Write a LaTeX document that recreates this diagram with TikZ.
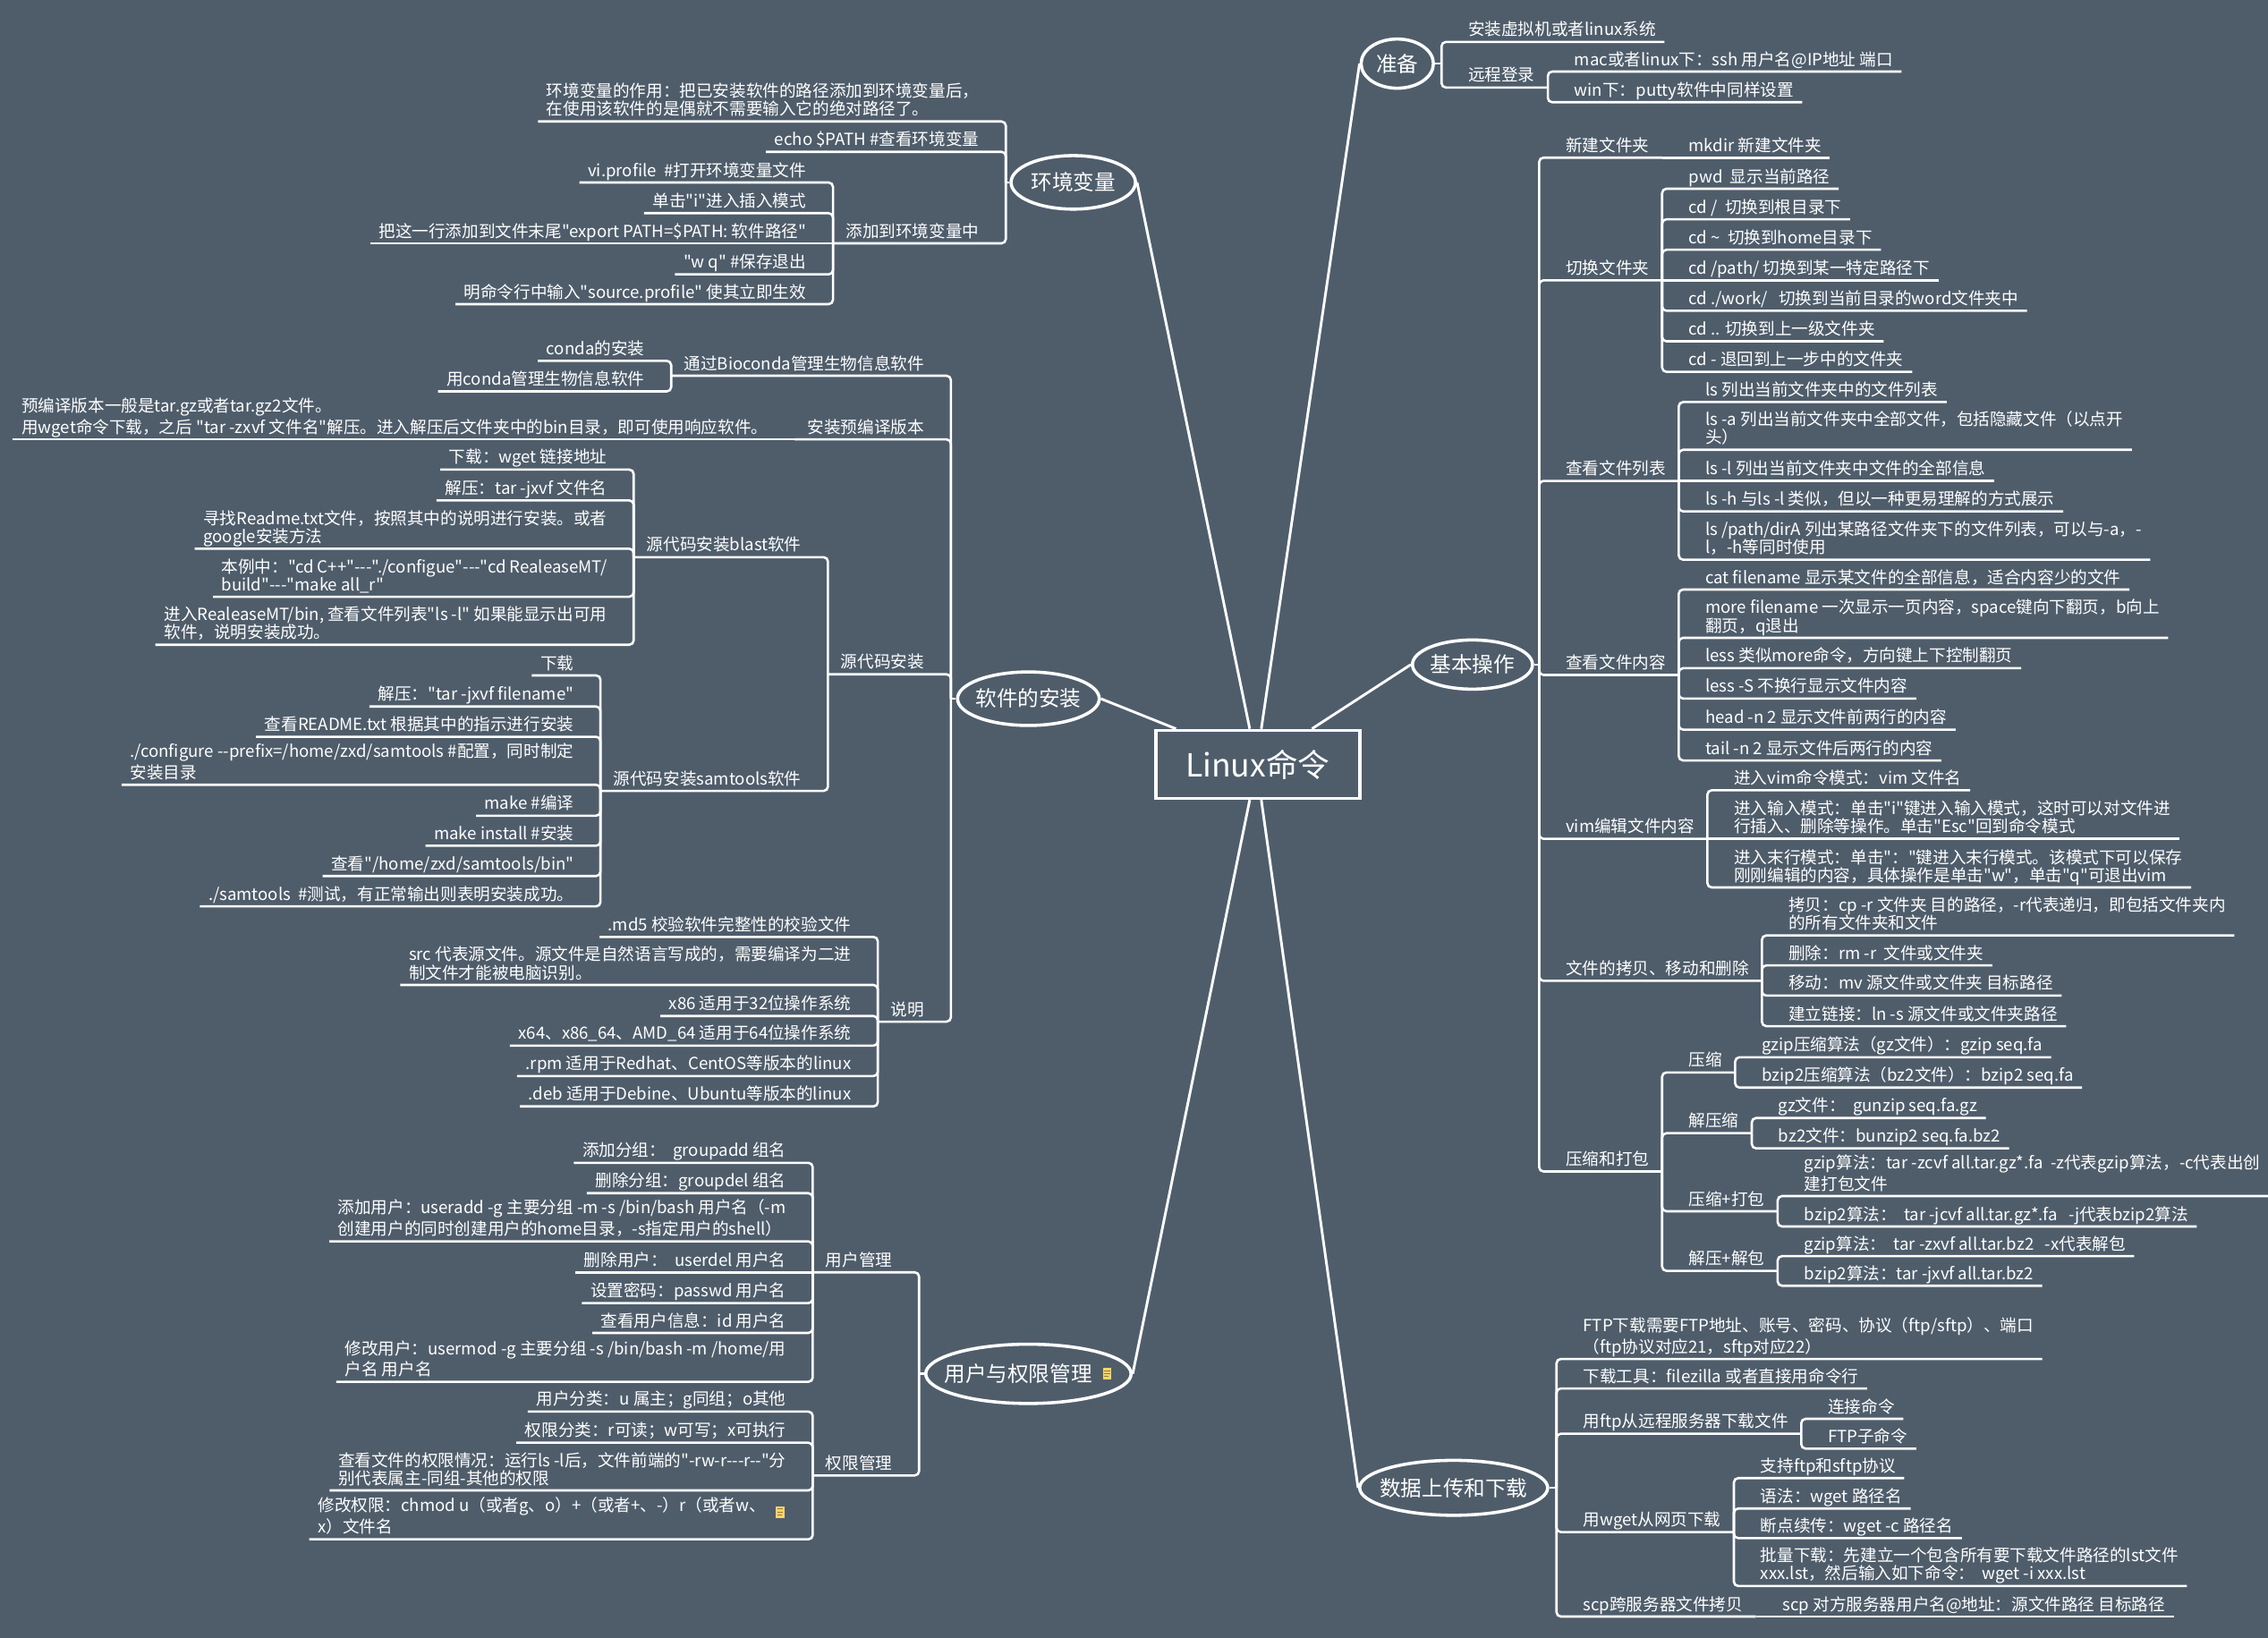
\documentclass[tikz,border=0pt]{standalone}
\usepackage{fontspec}
\setmainfont{Noto Sans CJK SC}[Ligatures=TeXOff]
\usetikzlibrary{calc,shapes.geometric}
\definecolor{bg}{HTML}{4F5D6B}
\definecolor{noteY}{HTML}{F3D46B}
\definecolor{noteL}{HTML}{9A7B2C}
\newcommand\mmlf{\fontsize{5.75pt}{6.2pt}\selectfont}
\newcommand\mmmf{\fontsize{7.3pt}{8pt}\selectfont}
\newcommand\mmcf{\fontsize{11pt}{12pt}\selectfont}
\newcommand\mmstrut{\rule[-1.5pt]{0pt}{1.5pt}}
\tikzset{
  br/.style={draw=white, line width=0.8pt, rounded corners=1.5pt},
  conn/.style={draw=white, line width=0.9pt},
  leafR/.style={anchor=south west, inner sep=0pt, outer sep=0pt, text=white, font=\mmlf, align=left},
  leafL/.style={anchor=south east, inner sep=0pt, outer sep=0pt, text=white, font=\mmlf, align=left},
  mainE/.style={ellipse, draw=white, line width=1.1pt, inner sep=0pt, text=white, font=\mmmf},
  centerbox/.style={rectangle, draw=white, line width=1.1pt, minimum width=70.5pt, minimum height=23.5pt, inner sep=0pt, text=white, font=\mmcf},
}
\newcommand\mmRL[4]{%
  \path (#2 |- 0,#3) coordinate (#1-j);
  \node[leafR] (#1) at ($(#1-j)+(18.5,-1.3)$) {#4\mmstrut};
  \draw[br] (#2) -- (#1-j) -- ($(#1.south east)+(6,1.3)$);}
\newcommand\mmRLm[4]{%
  \node[leafR] (#1) at ($(#2)+(18.5,-1.3)$) {#4\mmstrut};
  \draw[br] (#2) -- ($(#1.south east)+(6,1.3)$);}
\newcommand\mmRN[4]{%
  \path (#2 |- 0,#3) coordinate (#1-j);
  \node[leafR] (#1) at ($(#1-j)+(18.5,-1.3)$) {#4\mmstrut};
  \coordinate (#1-b) at ($(#1.south east)+(9,1.3)$);
  \draw[br] (#2) -- (#1-j) -- (#1-b);}
\newcommand\mmLL[4]{%
  \path (#2 |- 0,#3) coordinate (#1-j);
  \node[leafL] (#1) at ($(#1-j)+(-18.5,-1.3)$) {#4\mmstrut};
  \draw[br] (#2) -- (#1-j) -- ($(#1.south west)+(-6,1.3)$);}
\newcommand\mmLLm[4]{%
  \node[leafL] (#1) at ($(#2)+(-18.5,-1.3)$) {#4\mmstrut};
  \draw[br] (#2) -- ($(#1.south west)+(-6,1.3)$);}
\newcommand\mmLN[4]{%
  \path (#2 |- 0,#3) coordinate (#1-j);
  \node[leafL] (#1) at ($(#1-j)+(-18.5,-1.3)$) {#4\mmstrut};
  \coordinate (#1-b) at ($(#1.south west)+(-9,1.3)$);
  \draw[br] (#2) -- (#1-j) -- (#1-b);}
\newcommand\mmnote[1]{%
  \fill[noteY] ($(#1)+(-3,-4)$) rectangle ($(#1)+(3,4)$);
  \draw[noteL, line width=0.3pt] ($(#1)+(-2,-2)$) -- ($(#1)+(2,-2)$) ($(#1)+(-2,0)$) -- ($(#1)+(2,0)$) ($(#1)+(-2,2)$) -- ($(#1)+(1,2)$);}
\begin{document}
\begin{tikzpicture}[x=0.5pt,y=-0.5pt]
\useasboundingbox (0,0) rectangle (1568,1132.5);
\fill[bg] (0,0) rectangle (1568,1132.5);

% centre and main topics
\node[centerbox] (lx) at (869.5,528.5) {Linux命令};
\node[mainE, minimum width=25pt, minimum height=17pt] (pb) at (966,44) {\makebox[0pt]{准备}};
\node[mainE, minimum width=43pt, minimum height=18.5pt] (hj) at (742,126.1) {\makebox[0pt]{环境变量}};
\node[mainE, minimum width=49pt, minimum height=18.5pt] (rj) at (711,483.1) {\makebox[0pt]{软件的安装}};
\node[mainE, minimum width=71pt, minimum height=20.5pt] (yh) at (711,949.9) {\makebox[0pt]{用户与权限管理\rule{7pt}{0pt}}};
\node[mainE, minimum width=41.5pt, minimum height=17pt] (jb) at (1018,459.5) {\makebox[0pt]{基本操作}};
\node[mainE, minimum width=65pt, minimum height=19pt] (sj) at (1005,1028.7) {\makebox[0pt]{数据上传和下载}};
\coordinate (ic1) at ($(yh.center)+(54.5,0)$);
\mmnote{ic1}

\coordinate (c-hj) at ($(lx.north)+(-5.5,0)$);
\coordinate (c-pb) at ($(lx.north)+(2.5,0)$);
\coordinate (c-jb) at ($(lx.north)+(37.5,0)$);
\coordinate (c-rj) at ($(lx.north)+(-56.5,0)$);
\coordinate (c-yh) at ($(lx.south)+(-5.5,0)$);
\coordinate (c-sj) at ($(lx.south)+(2.5,0)$);
\draw[conn] (c-hj) -- (hj.east);
\draw[conn] (c-pb) -- (pb.west);
\draw[conn] (c-jb) -- (jb.west);
\draw[conn] (c-rj) -- (rj.east);
\draw[conn] (c-yh) -- (yh.east);
\draw[conn] (c-sj) -- (sj.west);

\coordinate (pb-b) at ($(pb.east)+(4.5,0)$);
\coordinate (jb-b) at ($(jb.east)+(3.5,0)$);
\coordinate (sj-b) at ($(sj.east)+(5,0)$);
\coordinate (hj-b) at ($(hj.west)+(-2.5,0)$);
\coordinate (rj-b) at ($(rj.west)+(-3.5,0)$);
\coordinate (yh-b) at ($(yh.west)+(-3.5,0)$);
\draw[br] (pb.east) -- (pb-b);
\draw[br] (jb.east) -- (jb-b);
\draw[br] (sj.east) -- (sj-b);
\draw[br] (hj.west) -- (hj-b);
\draw[br] (rj.west) -- (rj-b);
\draw[br] (yh.west) -- (yh-b);

% 准备
\mmRL{p1}{pb-b}{29}{安装虚拟机或者linux系统}
\mmRN{p2}{pb-b}{60.5}{远程登录}
\mmRL{p21}{p2-b}{49.5}{mac或者linux下：ssh 用户名@IP地址 端口}
\mmRL{p22}{p2-b}{70.7}{win下：putty软件中同样设置}

% 基本操作
\mmRN{b1}{jb-b}{109}{新建文件夹}
\mmRLm{b11}{b1-b}{109}{mkdir 新建文件夹}
\mmRN{b2}{jb-b}{193.8}{切换文件夹}
\mmRL{b21}{b2-b}{130.5}{pwd\ \ 显示当前路径}
\mmRL{b22}{b2-b}{151.6}{cd /\ \ 切换到根目录下}
\mmRL{b23}{b2-b}{172.7}{cd \textasciitilde\ \ 切换到home目录下}
\mmRLm{b24}{b2-b}{193.8}{cd /path/ 切换到某一特定路径下}
\mmRL{b25}{b2-b}{214.9}{cd ./work/\ \ \ 切换到当前目录的word文件夹中}
\mmRL{b26}{b2-b}{236}{cd .. 切换到上一级文件夹}
\mmRL{b27}{b2-b}{257.1}{cd - 退回到上一步中的文件夹}
\mmRN{b3}{jb-b}{332.5}{查看文件列表}
\mmRL{b31}{b3-b}{278}{ls 列出当前文件夹中的文件列表}
\mmRL{b32}{b3-b}{311}{ls -a 列出当前文件夹中全部文件，包括隐藏文件（以点开\\头）}
\mmRLm{b33}{b3-b}{332.5}{ls -l 列出当前文件夹中文件的全部信息}
\mmRL{b34}{b3-b}{353.6}{ls -h 与ls -l 类似，但以一种更易理解的方式展示}
\mmRL{b35}{b3-b}{387}{ls /path/dirA 列出某路径文件夹下的文件列表，可以与-a，-\\l，-h等同时使用}
\mmRN{b4}{jb-b}{466.7}{查看文件内容}
\mmRL{b41}{b4-b}{407.6}{cat filename 显示某文件的全部信息，适合内容少的文件}
\mmRL{b42}{b4-b}{441}{more filename 一次显示一页内容，space键向下翻页，b向上\\翻页，q退出}
\mmRL{b43}{b4-b}{462}{less 类似more命令，方向键上下控制翻页}
\mmRL{b44}{b4-b}{483}{less -S 不换行显示文件内容}
\mmRL{b45}{b4-b}{504.5}{head -n 2 显示文件前两行的内容}
\mmRL{b46}{b4-b}{525.8}{tail -n 2 显示文件后两行的内容}
\mmRN{b5}{jb-b}{580}{vim编辑文件内容}
\mmRL{b51}{b5-b}{546.4}{进入vim命令模式：vim 文件名}
\mmRLm{b52}{b5-b}{580}{进入输入模式：单击"i"键进入输入模式，这时可以对文件进\\行插入、删除等操作。单击"Esc"回到命令模式}
\mmRL{b53}{b5-b}{613.6}{进入末行模式：单击"："键进入末行模式。该模式下可以保存\\刚刚编辑的内容，具体操作是单击"w"，单击"q"可退出vim}
\mmRN{b6}{jb-b}{678.2}{文件的拷贝、移动和删除}
\mmRL{b61}{b6-b}{646.8}{拷贝：cp -r 文件夹 目的路径，-r代表递归，即包括文件夹内\\的所有文件夹和文件}
\mmRL{b62}{b6-b}{667.5}{删除：rm -r\ \ 文件或文件夹}
\mmRL{b63}{b6-b}{688.4}{移动：mv 源文件或文件夹 目标路径}
\mmRL{b64}{b6-b}{709.5}{建立链接：ln -s 源文件或文件夹路径}
\mmRN{b7}{jb-b}{810}{压缩和打包}
\mmRN{b71}{b7-b}{741.5}{压缩}
\mmRL{b711}{b71-b}{731}{gzip压缩算法（gz文件）：gzip seq.fa}
\mmRL{b712}{b71-b}{752}{bzip2压缩算法（bz2文件）：bzip2 seq.fa}
\mmRN{b72}{b7-b}{783.5}{解压缩}
\mmRL{b721}{b72-b}{773}{gz文件：\ \ gunzip seq.fa.gz}
\mmRL{b722}{b72-b}{794}{bz2文件：bunzip2 seq.fa.bz2}
\mmRN{b73}{b7-b}{837.5}{压缩+打包}
\mmRL{b731}{b73-b}{827}{gzip算法：tar -zcvf all.tar.gz*.fa\ \ -z代表gzip算法，-c代表出创\\建打包文件}
\mmRL{b732}{b73-b}{848}{bzip2算法：\ \ tar -jcvf all.tar.gz*.fa\ \ \ -j代表bzip2算法}
\mmRN{b74}{b7-b}{878.7}{解压+解包}
\mmRL{b741}{b74-b}{868.5}{gzip算法：\ \ tar -zxvf all.tar.bz2\ \ \ -x代表解包}
\mmRL{b742}{b74-b}{889}{bzip2算法：tar -jxvf all.tar.bz2}

% 数据上传和下载
\mmRL{d1}{sj-b}{939.6}{FTP下载需要FTP地址、账号、密码、协议（ftp/sftp）、端口\\（ftp协议对应21，sftp对应22）}
\mmRL{d2}{sj-b}{960}{下载工具：filezilla 或者直接用命令行}
\mmRN{d3}{sj-b}{991.3}{用ftp从远程服务器下载文件}
\mmRL{d31}{d3-b}{981}{连接命令}
\mmRL{d32}{d3-b}{1001.6}{FTP子命令}
\mmRN{d4}{sj-b}{1059.3}{用wget从网页下载}
\mmRL{d41}{d4-b}{1022}{支持ftp和sftp协议}
\mmRL{d42}{d4-b}{1043}{语法：wget 路径名}
\mmRL{d43}{d4-b}{1063.5}{断点续传：wget -c 路径名}
\mmRL{d44}{d4-b}{1096.6}{批量下载：先建立一个包含所有要下载文件路径的lst文件\\xxx.lst，然后输入如下命令：\ \ wget -i xxx.lst}
\mmRN{d5}{sj-b}{1117.7}{scp跨服务器文件拷贝}
\mmRLm{d51}{d5-b}{1117.7}{scp 对方服务器用户名@地址：源文件路径 目标路径}

% 软件的安装
\mmLN{s1}{rj-b}{259.8}{通过Bioconda管理生物信息软件}
\mmLL{s11}{s1-b}{249.5}{conda的安装}
\mmLL{s12}{s1-b}{270.6}{用conda管理生物信息软件}
\mmLN{s2}{rj-b}{303.8}{安装预编译版本}
\mmLLm{s21}{s2-b}{303.8}{预编译版本一般是tar.gz或者tar.gz2文件。\\用wget命令下载，之后 "tar -zxvf 文件名"解压。进入解压后文件夹中的bin目录，即可使用响应软件。}
\mmLN{s3}{rj-b}{466.2}{源代码安装}
\mmLN{s31}{s3-b}{385.25}{源代码安装blast软件}
\mmLL{s311}{s31-b}{324.7}{下载：wget 链接地址}
\mmLL{s312}{s31-b}{346}{解压：tar -jxvf 文件名}
\mmLL{s313}{s31-b}{379.4}{寻找Readme.txt文件，按照其中的说明进行安装。或者\\google安装方法}
\mmLL{s314}{s31-b}{412.6}{本例中："cd C++"---"./configue"---"cd RealeaseMT/\\build"---"make all\_r"}
\mmLL{s315}{s31-b}{445.8}{进入RealeaseMT/bin, 查看文件列表"ls -l" 如果能显示出可用\\软件，说明安装成功。}
\mmLN{s32}{s3-b}{546.85}{源代码安装samtools软件}
\mmLL{s321}{s32-b}{467}{下载}
\mmLL{s322}{s32-b}{488.5}{解压："tar -jxvf filename"}
\mmLL{s323}{s32-b}{509.4}{查看README.txt 根据其中的指示进行安装}
\mmLL{s324}{s32-b}{542.6}{./configure --prefix=/home/zxd/samtools \#配置，同时制定\\安装目录}
\mmLL{s325}{s32-b}{564}{make \#编译}
\mmLL{s326}{s32-b}{584.8}{make install \#安装}
\mmLL{s327}{s32-b}{605.7}{查看"/home/zxd/samtools/bin"}
\mmLL{s328}{s32-b}{626.7}{./samtools\ \ \#测试，有正常输出则表明安装成功。}
\mmLN{s4}{rj-b}{706.4}{说明}
\mmLL{s41}{s4-b}{647.8}{.md5 校验软件完整性的校验文件}
\mmLL{s42}{s4-b}{681}{src 代表源文件。源文件是自然语言写成的，需要编译为二进\\制文件才能被电脑识别。}
\mmLL{s43}{s4-b}{702.5}{x86 适用于32位操作系统}
\mmLL{s44}{s4-b}{723}{x64、x86\_64、AMD\_64 适用于64位操作系统}
\mmLL{s45}{s4-b}{744}{.rpm 适用于Redhat、CentOS等版本的linux}
\mmLL{s46}{s4-b}{765}{.deb 适用于Debine、Ubuntu等版本的linux}

% 环境变量
\mmLL{h1}{hj-b}{84}{环境变量的作用：把已安装软件的路径添加到环境变量后，\\在使用该软件的是偶就不需要输入它的绝对路径了。}
\mmLL{h2}{hj-b}{105}{echo \$PATH \#查看环境变量}
\mmLN{h3}{hj-b}{168.25}{添加到环境变量中}
\mmLL{h31}{h3-b}{126.2}{vi.profile\ \ \#打开环境变量文件}
\mmLL{h32}{h3-b}{147.4}{单击"i"进入插入模式}
\mmLLm{h33}{h3-b}{168.25}{把这一行添加到文件末尾"export PATH=\$PATH: 软件路径"}
\mmLL{h34}{h3-b}{189.7}{"w q" \#保存退出}
\mmLL{h35}{h3-b}{210.3}{明命令行中输入"source.profile" 使其立即生效}

% 用户与权限管理
\mmLN{u1}{yh-b}{879.7}{用户管理}
\mmLL{u11}{u1-b}{804}{添加分组：\ \ groupadd 组名}
\mmLL{u12}{u1-b}{825}{删除分组：groupdel 组名}
\mmLL{u13}{u1-b}{858.3}{添加用户：useradd -g 主要分组 -m -s /bin/bash 用户名（-m\\创建用户的同时创建用户的home目录，-s指定用户的shell）}
\mmLLm{u14}{u1-b}{879.7}{删除用户：\ \ userdel 用户名}
\mmLL{u15}{u1-b}{901}{设置密码：passwd 用户名}
\mmLL{u16}{u1-b}{921.6}{查看用户信息：id 用户名}
\mmLL{u17}{u1-b}{955.4}{修改用户：usermod -g 主要分组 -s /bin/bash -m /home/用\\户名 用户名}
\mmLN{u2}{yh-b}{1020.15}{权限管理}
\mmLL{u21}{u2-b}{976}{用户分类：u 属主；g同组；o其他}
\mmLL{u22}{u2-b}{997.5}{权限分类：r可读；w可写；x可执行}
\mmLL{u23}{u2-b}{1030.5}{查看文件的权限情况：运行ls -l后，文件前端的"-rw-r---r--"分\\别代表属主-同组-其他的权限}
\mmLL{u24}{u2-b}{1064.3}{修改权限：chmod u（或者g、o）+（或者+、-）r（或者w、\rule{7pt}{0pt}\\x）文件名}
\coordinate (ic2) at ($(u24.north east)+(-4,10)$);
\mmnote{ic2}
\end{tikzpicture}
\end{document}
